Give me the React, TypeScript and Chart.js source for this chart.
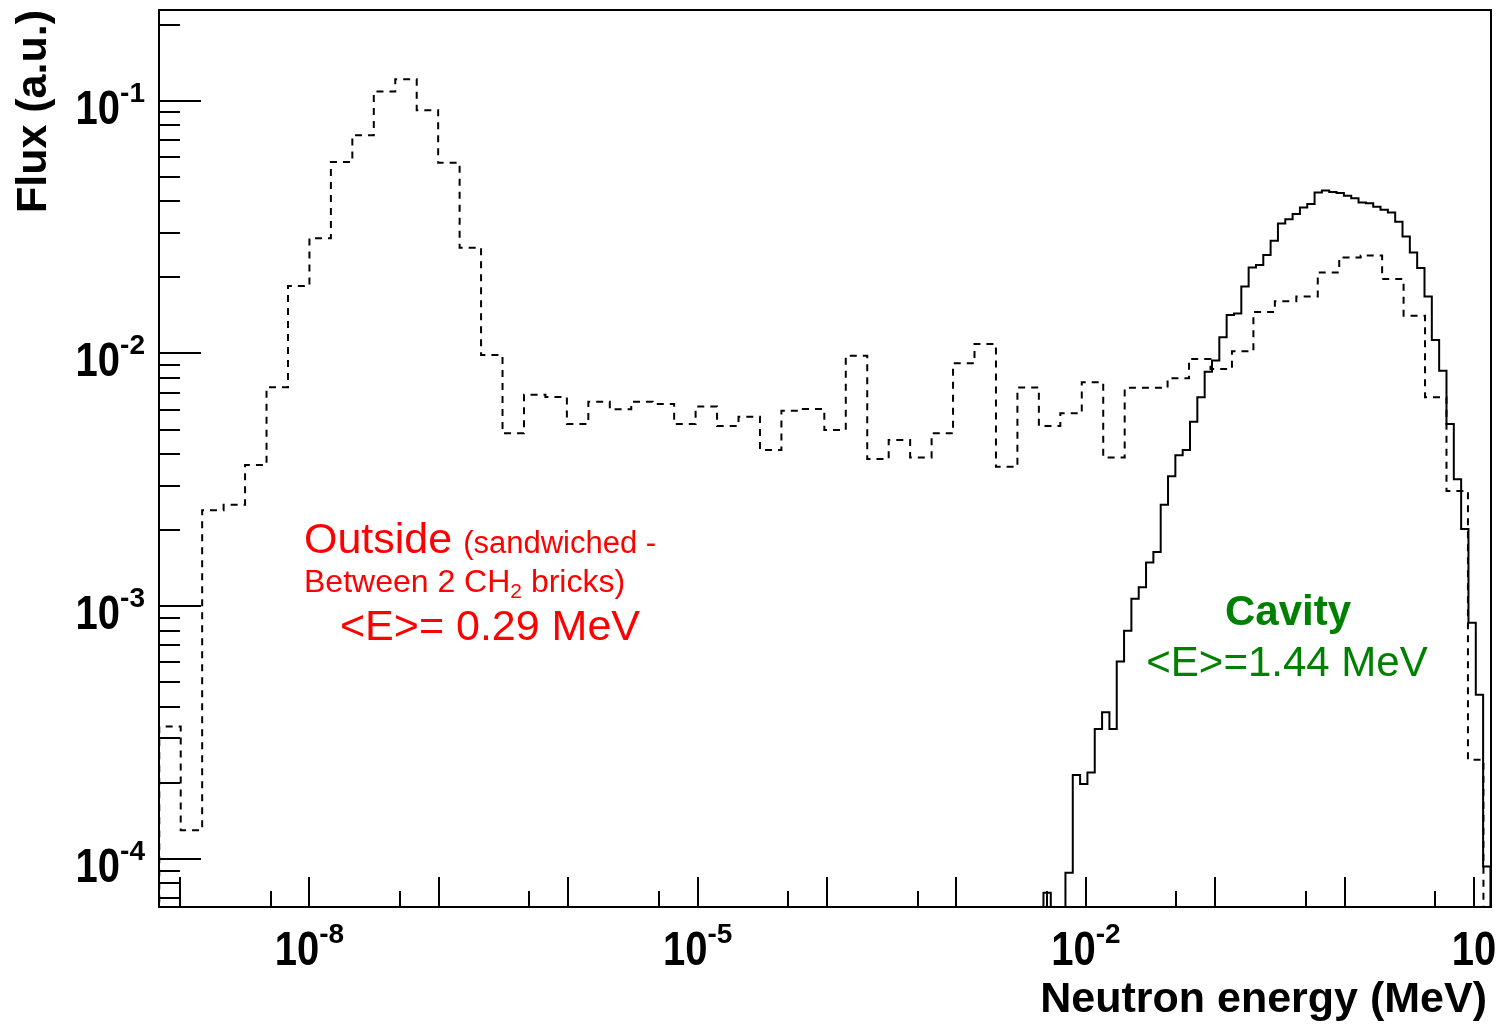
import React, { useEffect, useRef } from "react";
import { Chart, registerables } from "chart.js";

Chart.register(...registerables);

// Axis ranges (log10 of MeV / flux)
const X_MIN_LOG = -9.163;
const X_MAX_LOG = 1.131;
const Y_MIN_LOG = -4.19;
const Y_MAX_LOG = -0.641;

// Tick label exponents
const xLabelExps = [-8, -5, -2, 1];
const yLabelExps = [-1, -2, -3, -4];

// "Outside" histogram (dashed): log-binned
const outsideLowEdgeLog = -9.161;
const outsideBinWidthLog = 0.1658;
const outsideEndLog = 1.0726;
const outsideFlux = [
  3.34e-4, 1.30e-4, 2.40e-3, 2.52e-3, 3.62e-3, 7.36e-3, 1.85e-2, 2.86e-2, 5.72e-2, 7.31e-2,
  0.1087, 0.1216, 9.18e-2, 5.68e-2, 2.62e-2, 9.86e-3, 4.83e-3, 6.86e-3, 6.73e-3, 5.26e-3,
  6.44e-3, 6.01e-3, 6.44e-3, 6.31e-3, 5.26e-3, 6.17e-3, 5.16e-3, 5.62e-3, 4.15e-3, 5.93e-3,
  6.03e-3, 4.98e-3, 9.79e-3, 3.82e-3, 4.55e-3, 3.88e-3, 4.83e-3, 9.14e-3, 1.09e-2, 3.56e-3,
  7.34e-3, 5.16e-3, 5.80e-3, 7.69e-3, 3.88e-3, 7.32e-3, 7.32e-3, 7.98e-3, 9.51e-3, 8.68e-3,
  1.02e-2, 1.46e-2, 1.61e-2, 1.68e-2, 2.09e-2, 2.40e-2, 2.44e-2, 1.97e-2, 1.41e-2, 6.71e-3,
  2.86e-3, 2.47e-4,
];

// "Cavity" histogram (solid): finer log bins
const cavityLowEdgeLog = -2.3277;
const cavityBinWidthLog = 0.05663;
const cavityFlux = [
  7.35e-5, 0, 0,
  8.83e-5, 2.15e-4, 1.98e-4, 2.20e-4, 3.27e-4, 3.81e-4, 3.27e-4, 6.04e-4, 8.00e-4, 1.07e-3,
  1.19e-3, 1.49e-3, 1.64e-3, 2.52e-3, 3.27e-3, 3.96e-3, 4.15e-3, 5.37e-3, 6.71e-3, 8.47e-3,
  9.38e-3, 1.16e-2, 1.42e-2, 1.44e-2, 1.84e-2, 2.19e-2, 2.24e-2, 2.45e-2, 2.79e-2, 3.27e-2,
  3.40e-2, 3.56e-2, 3.78e-2, 3.90e-2, 4.33e-2, 4.41e-2, 4.35e-2, 4.31e-2, 4.21e-2, 4.11e-2,
  3.96e-2, 3.93e-2, 3.81e-2, 3.70e-2, 3.61e-2, 3.32e-2, 2.90e-2, 2.51e-2, 2.18e-2, 1.68e-2,
  1.13e-2, 8.55e-3, 5.26e-3, 3.18e-3, 2.02e-3, 8.61e-4, 4.46e-4, 9.33e-5,
];

const FLOOR = 1e-7;

function histPoints(lo: number, w: number, vals: number[], endLog?: number) {
  const pts: { x: number; y: number }[] = [];
  pts.push({ x: Math.pow(10, lo), y: FLOOR });
  vals.forEach((v, i) => {
    pts.push({ x: Math.pow(10, lo + i * w), y: v > 0 ? v : FLOOR });
  });
  const end = endLog !== undefined ? endLog : lo + vals.length * w;
  const last = vals[vals.length - 1];
  pts.push({ x: Math.pow(10, end), y: last > 0 ? last : FLOOR });
  pts.push({ x: Math.pow(10, end), y: FLOOR });
  return pts;
}

const FONT = "'Liberation Sans', Arial, Helvetica, sans-serif";
const BASE_STRETCH = 1.18;

function drawPow(
  ctx: CanvasRenderingContext2D,
  exp: number,
  x: number,
  baseline: number,
  align: "center" | "right"
) {
  const base = "10";
  const sup = exp === 1 ? "" : String(exp);
  ctx.font = `bold 40px ${FONT}`;
  const wb = ctx.measureText(base).width;
  ctx.font = `bold 28px ${FONT}`;
  const ws = sup ? ctx.measureText(sup).width : 0;
  const total = wb + ws;
  const sx = align === "center" ? x - total / 2 : x - total;
  ctx.textAlign = "left";
  ctx.textBaseline = "alphabetic";
  ctx.save();
  ctx.translate(sx, baseline);
  ctx.scale(1, BASE_STRETCH);
  ctx.font = `bold 40px ${FONT}`;
  ctx.fillText(base, 0, 0);
  ctx.restore();
  if (sup) {
    ctx.font = `bold 28px ${FONT}`;
    ctx.fillText(sup, sx + wb, baseline - 22);
  }
}

const decorPlugin = {
  id: "decor",
  afterDraw(chart: any) {
    const ctx: CanvasRenderingContext2D = chart.ctx;
    const { left, right, top, bottom } = chart.chartArea;
    const xs = chart.scales.x;
    const ys = chart.scales.y;
    ctx.save();
    ctx.strokeStyle = "#000";
    ctx.fillStyle = "#000";
    ctx.lineWidth = 2;

    // y ticks
    for (let d = -6; d <= 1; d++) {
      for (let m = 1; m <= 9; m++) {
        const lv = d + Math.log10(m);
        if (lv < Y_MIN_LOG || lv > Y_MAX_LOG) continue;
        const y = Math.round(ys.getPixelForValue(m * Math.pow(10, d)));
        const len = m === 1 ? 42 : 21;
        ctx.beginPath();
        ctx.moveTo(left, y);
        ctx.lineTo(left + len, y);
        ctx.stroke();
      }
    }
    // x ticks
    for (let d = -11; d <= 2; d++) {
      for (const m of [1, 5]) {
        const lv = d + Math.log10(m);
        if (lv < X_MIN_LOG || lv > X_MAX_LOG) continue;
        const x = Math.round(xs.getPixelForValue(m * Math.pow(10, d)));
        const len = m === 1 ? 30 : 16;
        ctx.beginPath();
        ctx.moveTo(x, bottom);
        ctx.lineTo(x, bottom - len);
        ctx.stroke();
      }
    }
    // frame
    ctx.strokeRect(left, top, right - left, bottom - top);

    // tick labels
    xLabelExps.forEach((e) => {
      const x = xs.getPixelForValue(Math.pow(10, e));
      drawPow(ctx, e, x, 965, "center");
    });
    yLabelExps.forEach((e) => {
      const y = ys.getPixelForValue(Math.pow(10, e));
      drawPow(ctx, e, 145, y + 23, "right");
    });

    // axis titles
    ctx.font = `bold 43px ${FONT}`;
    ctx.textAlign = "right";
    ctx.textBaseline = "alphabetic";
    ctx.fillText("Neutron energy (MeV)", 1487, 1012);
    ctx.save();
    ctx.translate(46, 10);
    ctx.rotate(-Math.PI / 2);
    ctx.textAlign = "right";
    ctx.font = `bold 43px ${FONT}`;
    ctx.fillText("Flux (a.u.)", 0, 0);
    ctx.restore();

    // Outside annotation (red)
    ctx.fillStyle = "#ff0000";
    ctx.textAlign = "left";
    ctx.font = `43px ${FONT}`;
    ctx.fillText("Outside", 304, 553);
    const wOut = ctx.measureText("Outside ").width;
    ctx.font = `31px ${FONT}`;
    ctx.fillText("(sandwiched -", 303 + wOut, 553);
    ctx.font = `32px ${FONT}`;
    const l2a = "Between 2 CH";
    ctx.fillText(l2a, 304, 592);
    const w2a = ctx.measureText(l2a).width;
    ctx.font = `21px ${FONT}`;
    ctx.fillText("2", 304 + w2a, 598);
    const w2b = ctx.measureText("2").width;
    ctx.font = `32px ${FONT}`;
    ctx.fillText(" bricks)", 304 + w2a + w2b, 592);
    ctx.font = `43px ${FONT}`;
    ctx.fillText("<E>= 0.29 MeV", 340, 640);

    // Cavity annotation (green)
    ctx.fillStyle = "#008000";
    ctx.textAlign = "center";
    ctx.font = `bold 42px ${FONT}`;
    ctx.fillText("Cavity", 1288, 625);
    ctx.font = `42px ${FONT}`;
    ctx.fillText("<E>=1.44 MeV", 1287, 676);

    ctx.restore();
  },
};

export default function App() {
  const ref = useRef<HTMLCanvasElement>(null);
  useEffect(() => {
    const canvas = ref.current;
    if (!canvas) return;
    const chart = new Chart(canvas, {
      type: "line",
      data: {
        datasets: [
          {
            label: "Outside",
            data: histPoints(outsideLowEdgeLog, outsideBinWidthLog, outsideFlux, outsideEndLog),
            borderColor: "#000",
            borderWidth: 2,
            borderDash: [7, 6],
            stepped: true,
            pointRadius: 0,
            fill: false,
          },
          {
            label: "Cavity",
            data: histPoints(cavityLowEdgeLog, cavityBinWidthLog, cavityFlux),
            borderColor: "#000",
            borderWidth: 2,
            stepped: true,
            pointRadius: 0,
            fill: false,
          },
        ],
      },
      options: {
        responsive: false,
        animation: false,
        devicePixelRatio: 1,
        events: [],
        layout: { padding: { left: 159, top: 10, right: 9, bottom: 118 } },
        plugins: { legend: { display: false }, tooltip: { enabled: false } },
        scales: {
          x: {
            type: "logarithmic",
            min: Math.pow(10, X_MIN_LOG),
            max: Math.pow(10, X_MAX_LOG),
            display: false,
          },
          y: {
            type: "logarithmic",
            min: Math.pow(10, Y_MIN_LOG),
            max: Math.pow(10, Y_MAX_LOG),
            display: false,
          },
        },
      } as any,
      plugins: [decorPlugin],
    });
    return () => chart.destroy();
  }, []);
  return (
    <div style={{ position: "absolute", left: 0, top: 0, width: 1500, height: 1025, background: "#fff" }}>
      <canvas ref={ref} width={1500} height={1025} style={{ display: "block", width: 1500, height: 1025 }} />
    </div>
  );
}
